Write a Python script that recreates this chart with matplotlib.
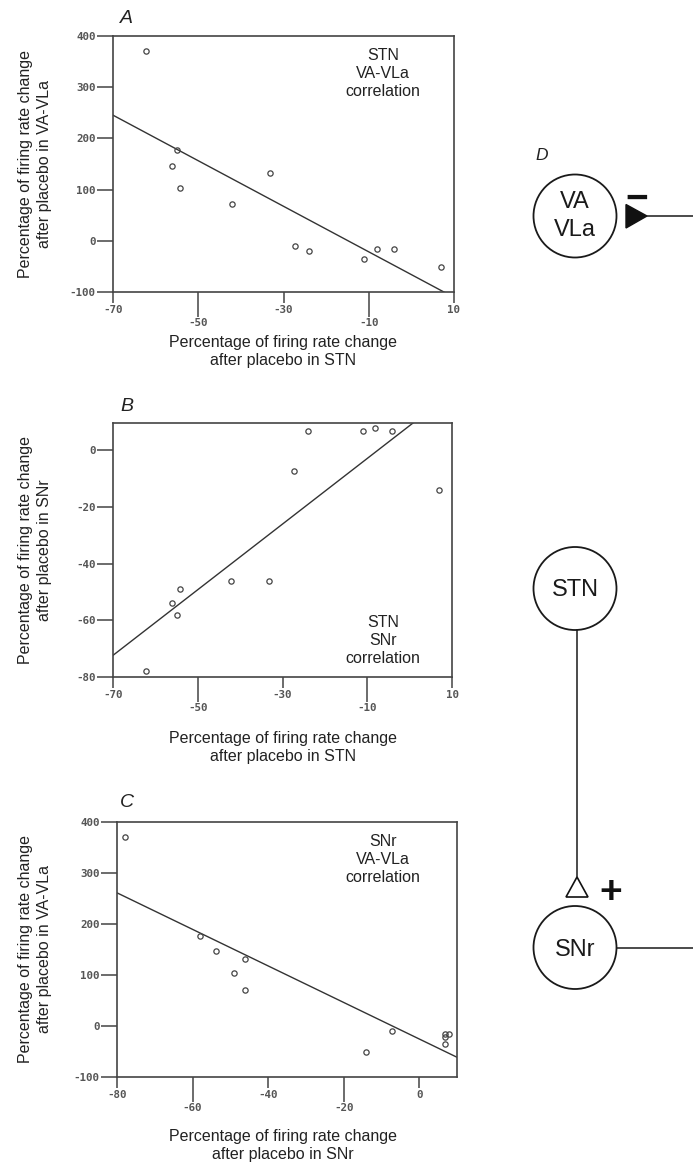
import numpy as np
import matplotlib
matplotlib.use("Agg")
import matplotlib.pyplot as plt
from matplotlib import ticker
from matplotlib.patches import Circle, Polygon

# ---- data (one value per neuron recording) ----
stn_change = [-62.2, -55.0, -56.1, -54.3, -42.1, -33.1, -27.2, -24.1, -11.0, -8.1, -4.1, 6.9]
snr_change = [-77.9, -58.0, -53.9, -48.9, -46.1, -46.1, -7.2, 6.8, 6.8, 7.8, 6.8, -14.1]
vavla_change = [371, 177, 147, 104, 71, 132, -10, -20.6, -34.9, -15.4, -15.4, -50.5]

stn_xticks_major = [-70, -30, 10]
stn_xticks_minor = [-50, -10]
snr_xticks_major = [-80, -40, 0]
snr_xticks_minor = [-60, -20]
vavla_yticks = [-100, 0, 100, 200, 300, 400]
snr_yticks = [-80, -60, -40, -20, 0]

W, H = 693, 1162
fig = plt.figure(figsize=(W / 100, H / 100), dpi=100)
fig.patch.set_facecolor("white")

SANS = "Liberation Sans"
TICKFONT = dict(family="DejaVu Sans Mono", size=7.8, weight="bold")
INK = "#3a3a3a"


def px_axes(left, top, right, bottom):
    return fig.add_axes([left / W, 1 - bottom / H, (right - left) / W, (bottom - top) / H])


def style(ax, x, y, xlim, ylim, xmaj, xmin, yt, note, note_xy):
    ax.plot(x, y, linestyle="none", marker="o", ms=3.8, mfc="none",
            mec="#444444", mew=0.9, clip_on=False, zorder=3)
    k, b = np.polyfit(x, y, 1)
    xs = np.array(xlim, dtype=float)
    ax.plot(xs, k * xs + b, color="#333333", lw=1.0, zorder=2)
    ax.set_xlim(*xlim)
    ax.set_ylim(*ylim)
    fmt = ticker.FuncFormatter(lambda v, p: f"{v:.0f}")
    ax.xaxis.set_major_locator(ticker.FixedLocator(xmaj))
    ax.xaxis.set_minor_locator(ticker.FixedLocator(xmin))
    ax.xaxis.set_major_formatter(fmt)
    ax.xaxis.set_minor_formatter(fmt)
    ax.yaxis.set_major_locator(ticker.FixedLocator(yt))
    ax.yaxis.set_major_formatter(fmt)
    ax.yaxis.set_minor_locator(ticker.NullLocator())
    ax.tick_params(axis="x", which="major", length=8, width=1.1, pad=1.5,
                   direction="out", color="#444444", labelcolor="#555555")
    ax.tick_params(axis="x", which="minor", length=18, width=1.1, pad=1,
                   direction="out", color="#444444", labelcolor="#555555")
    ax.tick_params(axis="y", which="major", length=11.5, width=1.1, pad=1,
                   direction="out", color="#444444", labelcolor="#555555")
    for lab in ax.get_xticklabels(which="both") + ax.get_yticklabels():
        lab.set_fontfamily(TICKFONT["family"])
        lab.set_fontsize(TICKFONT["size"])
        lab.set_fontweight(TICKFONT["weight"])
    for s in ax.spines.values():
        s.set_color("#444444")
        s.set_linewidth(1.2)
    ax.text(note_xy[0], note_xy[1], note, transform=ax.transAxes, ha="center",
            va="center", fontsize=11.5, family=SANS, color="#222222",
            linespacing=1.25)


axA = px_axes(113, 36, 454, 292)
style(axA, stn_change, vavla_change, (-70, 10), (-100, 400),
      stn_xticks_major, stn_xticks_minor, vavla_yticks,
      "STN\nVA-VLa\ncorrelation", (0.792, 0.852))

axB = px_axes(113, 423, 452, 677)
style(axB, stn_change, snr_change, (-70, 10), (-80, 9.7),
      stn_xticks_major, stn_xticks_minor, snr_yticks,
      "STN\nSNr\ncorrelation", (0.796, 0.142))

axC = px_axes(117, 822, 457, 1077)
style(axC, snr_change, vavla_change, (-80, 10), (-100, 400),
      snr_xticks_major, snr_xticks_minor, vavla_yticks,
      "SNr\nVA-VLa\ncorrelation", (0.782, 0.851))

# ---- overlay in pixel coordinates for labels and diagram ----
ov = fig.add_axes([0, 0, 1, 1], zorder=-1)
ov.set_xlim(0, W)
ov.set_ylim(H, 0)
ov.axis("off")

lab_kw = dict(fontsize=11.5, family=SANS, color="#222222", ha="center",
              va="center", linespacing=1.25, multialignment="center")
ov.text(35, 164, "Percentage of firing rate change\nafter placebo in VA-VLa", rotation=90, **lab_kw)
ov.text(35, 550, "Percentage of firing rate change\nafter placebo in SNr", rotation=90, **lab_kw)
ov.text(35, 949, "Percentage of firing rate change\nafter placebo in VA-VLa", rotation=90, **lab_kw)
ov.text(283, 352, "Percentage of firing rate change\nafter placebo in STN", **lab_kw)
ov.text(283, 748, "Percentage of firing rate change\nafter placebo in STN", **lab_kw)
ov.text(283, 1145, "Percentage of firing rate change\nafter placebo in SNr", **lab_kw)

let_kw = dict(fontsize=14, family=SANS, style="italic", color="#222222",
              ha="left", va="baseline")
ov.text(120, 23, "A", **let_kw)
ov.text(120, 411, "B", **let_kw)
ov.text(120, 807, "C", **let_kw)
ov.text(535, 160, "D", fontsize=12.5, family=SANS, style="italic",
        color="#222222", ha="left", va="baseline")

# diagram D
R = 41.5
node_kw = dict(fill=False, lw=1.3, ec="#1a1a1a")
txt_kw = dict(fontsize=17, family=SANS, color="#1a1a1a", ha="center", va="baseline")
ov.add_patch(Circle((575, 216), R, **node_kw))
ov.text(575, 207.5, "VA", **txt_kw)
ov.text(575, 236.5, "VLa", **txt_kw)
ov.add_patch(Circle((575, 588.5), R, **node_kw))
ov.text(575, 596.5, "STN", **txt_kw)
ov.add_patch(Circle((575, 947.5), R, **node_kw))
ov.text(575, 956, "SNr", **txt_kw)

# inhibitory (filled) terminal on VA-VLa
ov.add_patch(Polygon([(626, 204.5), (626, 228), (647, 216)], closed=True,
                     fc="#111111", ec="#111111", lw=1))
ov.plot([647, W], [216, 216], color="#1a1a1a", lw=1.1)
ov.text(637, 196, "\u2212", fontsize=28, family=SANS, weight="bold",
        color="#111111", ha="center", va="center_baseline")

# excitatory (open) terminal on SNr
ov.plot([577, 577], [630, 877], color="#1a1a1a", lw=1.1)
ov.add_patch(Polygon([(577, 877), (566, 897), (588, 897)], closed=True,
                     fill=False, ec="#111111", lw=1.2))
ov.text(611, 889, "+", fontsize=28, family=SANS, weight="bold",
        color="#111111", ha="center", va="center_baseline")
ov.plot([617, W], [947.5, 947.5], color="#1a1a1a", lw=1.1)

fig.savefig("out.png", dpi=100, facecolor="white")
